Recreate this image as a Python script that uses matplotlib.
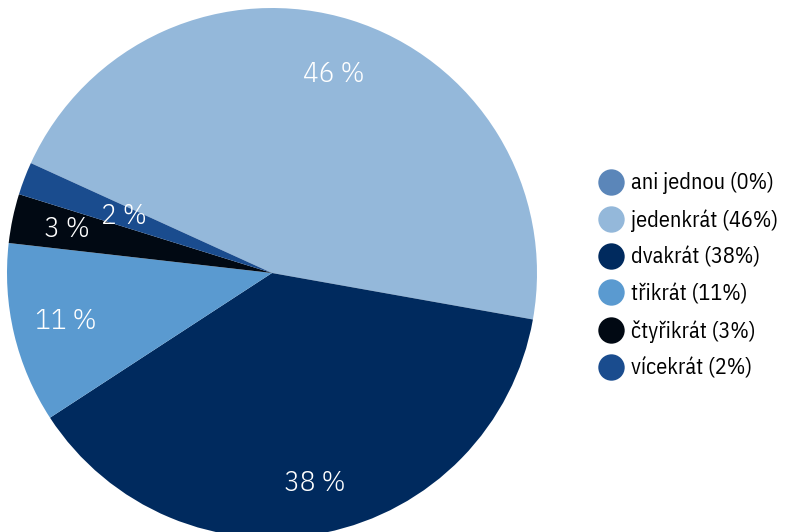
import matplotlib
matplotlib.use("Agg")
import matplotlib.pyplot as plt
from matplotlib.lines import Line2D
from matplotlib import font_manager as fm
import numpy as np

categories = ["ani jednou", "jedenkrát", "dvakrát", "třikrát", "čtyřikrát", "vícekrát"]
values = [0, 46, 38, 11, 3, 2]
colors = ["#5B86B9", "#94B8DA", "#002A5E", "#5A9AD0", "#010913", "#1A4C8E"]


def pick_font(weight):
    cands = [("IBM Plex Sans Condensed", "condensed"), ("Open Sans", "condensed"),
             ("Roboto Condensed", None), ("Open Sans", "semi-condensed")]
    for name, stretch in cands:
        for w in (weight, 400):
            for f in fm.fontManager.ttflist:
                if f.name == name and f.style == "normal" and f.weight == w \
                        and (stretch is None or f.stretch == stretch):
                    return fm.FontProperties(fname=f.fname)
    return fm.FontProperties(family="DejaVu Sans")


def fp(size, weight=400):
    p = pick_font(weight).copy()
    p.set_size(size)
    return p


W, H = 785, 532
cx, cy, R = 272, 273, 265
fig = plt.figure(figsize=(W / 100, H / 100), dpi=100)
ax = fig.add_axes([0, 0, 1, 1])

ax.pie(values, colors=colors, startangle=155.5, counterclock=False,
       radius=1.0, wedgeprops=dict(linewidth=0))

total = sum(values)
ang = 155.5
label_r = {1: 0.785, 2: 0.81, 3: 0.80, 4: 0.79, 5: 0.60}
for i, v in enumerate(values):
    a0 = ang
    ang -= v / total * 360
    if v == 0:
        continue
    mid = np.deg2rad((a0 + ang) / 2)
    r = label_r[i]
    ax.text(r * np.cos(mid), r * np.sin(mid), f"{v} %", color="white",
            fontproperties=fp(21, 300), ha="center", va="center")

ax.set_xlim(-cx / R, (W - cx) / R)
ax.set_ylim(-(H - cy) / R, cy / R)
ax.set_aspect("auto")
ax.axis("off")

handles = [Line2D([], [], marker="o", linestyle="none", markersize=19,
                  markerfacecolor=c, markeredgewidth=0) for c in colors]
labels = [f"{c} ({v}%)" for c, v in zip(categories, values)]
fig.legend(handles, labels, loc="center left",
           bbox_to_anchor=(597 / W, 1 - 276 / H), frameon=False,
           prop=fp(16), handletextpad=0.25,
           labelspacing=0.66, handlelength=1.3, borderpad=0, borderaxespad=0)

fig.savefig("out.png", dpi=100)
